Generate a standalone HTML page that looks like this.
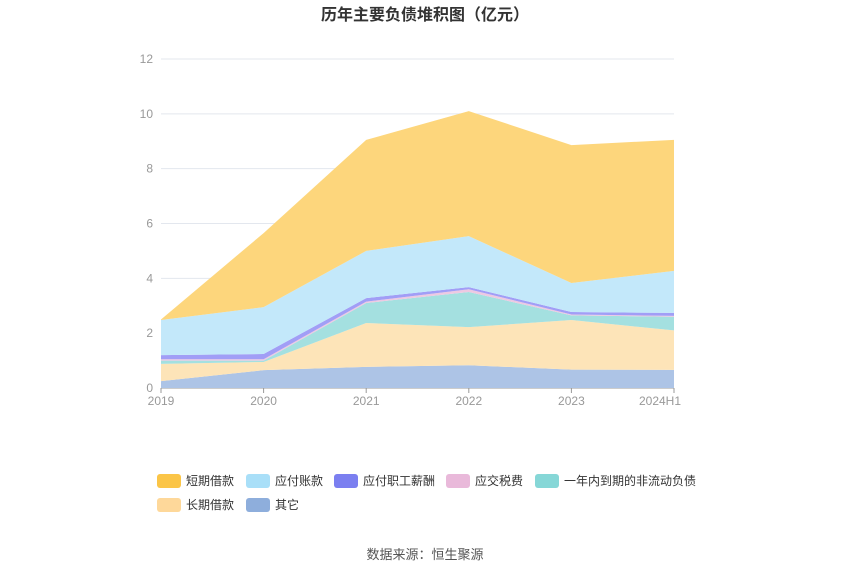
<!DOCTYPE html>
<html><head><meta charset="utf-8"><style>
body{margin:0;background:#fff;font-family:"Liberation Sans","Noto Sans CJK SC",sans-serif;}
#wrap{position:relative;width:850px;height:575px;overflow:hidden}
</style></head><body>
<div id="wrap">
<svg id="chart" width="850" height="575"></svg>
</div>
<script>
const categories=["2019","2020","2021","2022","2023","2024H1"];
const yTicks=[0,2,4,6,8,10,12];
const seriesNames=["其它","长期借款","一年内到期的非流动负债","应交税费","应付职工薪酬","应付账款","短期借款"];
const other=[0.25,0.65,0.77,0.83,0.67,0.66];
const longLoan=[0.63,0.30,1.60,1.39,1.81,1.44];
const currentNonCurrent=[0.12,0.05,0.73,1.28,0.17,0.50];
const taxPayable=[0.05,0.05,0.05,0.10,0.03,0.03];
const salaryPayable=[0.15,0.19,0.13,0.08,0.09,0.11];
const accountsPayable=[1.28,1.71,1.72,1.86,1.06,1.53];
const shortLoan=[0.02,2.70,4.05,4.56,5.03,4.78];

const NS="http://www.w3.org/2000/svg";
const svg=document.getElementById('chart');
const x0=161,x1=674,yB=388,yT=59,yMax=12;
const xs=i=>x0+(x1-x0)*i/(categories.length-1);
const ys=v=>yB-(yB-yT)*v/yMax;
function mk(t,a){const e=document.createElementNS(NS,t);for(const k in a)e.setAttribute(k,a[k]);svg.appendChild(e);return e;}

const title=mk('text',{x:425,y:20,'text-anchor':'middle','font-size':16,'font-weight':'bold',fill:'#333'});
title.textContent='历年主要负债堆积图（亿元）';



yTicks.forEach(t=>{
  const g=mk('line',{x1:x0,x2:x1,y1:ys(t),y2:ys(t),stroke:t===0?'#999':'#e3e7ee','stroke-width':1});
  
  
  const l=mk('text',{x:153,y:ys(t)+4,'text-anchor':'end','font-size':12,fill:'#999'});
  l.textContent=t;
  
  
});

const data=[other,longLoan,currentNonCurrent,taxPayable,salaryPayable,accountsPayable,shortLoan];
const fills=["#adc4e6","#fde4b8","#a4e0e0","#edc9e2","#a19ef6","#c3e8fa","#fdd67c"];
const keys=["area-other","area-long-loan","area-current-noncurrent","area-tax","area-salary","area-accounts-payable","area-short-loan"];
let base=categories.map(()=>0);
data.forEach((arr,si)=>{
  const top=base.map((b,i)=>b+arr[i]);
  let d='M'+categories.map((c,i)=>xs(i)+','+ys(top[i])).join('L');
  for(let i=categories.length-1;i>=0;i--) d+='L'+xs(i)+','+ys(base[i]);
  d+='Z';
  const p=mk('path',{d:d,fill:fills[si],stroke:'none'});
  
  
  base=top;
});

categories.forEach((c,i)=>{
  const tk=mk('line',{x1:xs(i),x2:xs(i),y1:yB,y2:yB+5,stroke:'#999'});
  
  
  const l=mk('text',{x:i===categories.length-1?xs(i)-14:xs(i),y:405,'text-anchor':'middle','font-size':12,fill:'#999'});
  l.textContent=c;
  
  
});

const legendItems=[["短期借款","#fbc547",157,481],["应付账款","#a9dff8",246,481],["应付职工薪酬","#7b7ff0",334,481],["应交税费","#e9b9da",446,481],["一年内到期的非流动负债","#86d7d7",535,481],["长期借款","#fed89a",157,505],["其它","#8eaedc",246,505]];
legendItems.forEach(it=>{
  const r=mk('rect',{x:it[2],y:it[3]-7,width:24,height:14,rx:3,fill:it[1]});
  
  
  const t=mk('text',{x:it[2]+29,y:it[3]+4,'font-size':12,fill:'#333'});
  t.textContent=it[0];
  
  
});

const src=mk('text',{x:425,y:559,'text-anchor':'middle','font-size':13,fill:'#555'});
src.textContent='数据来源：恒生聚源';


</script>
</body></html>
